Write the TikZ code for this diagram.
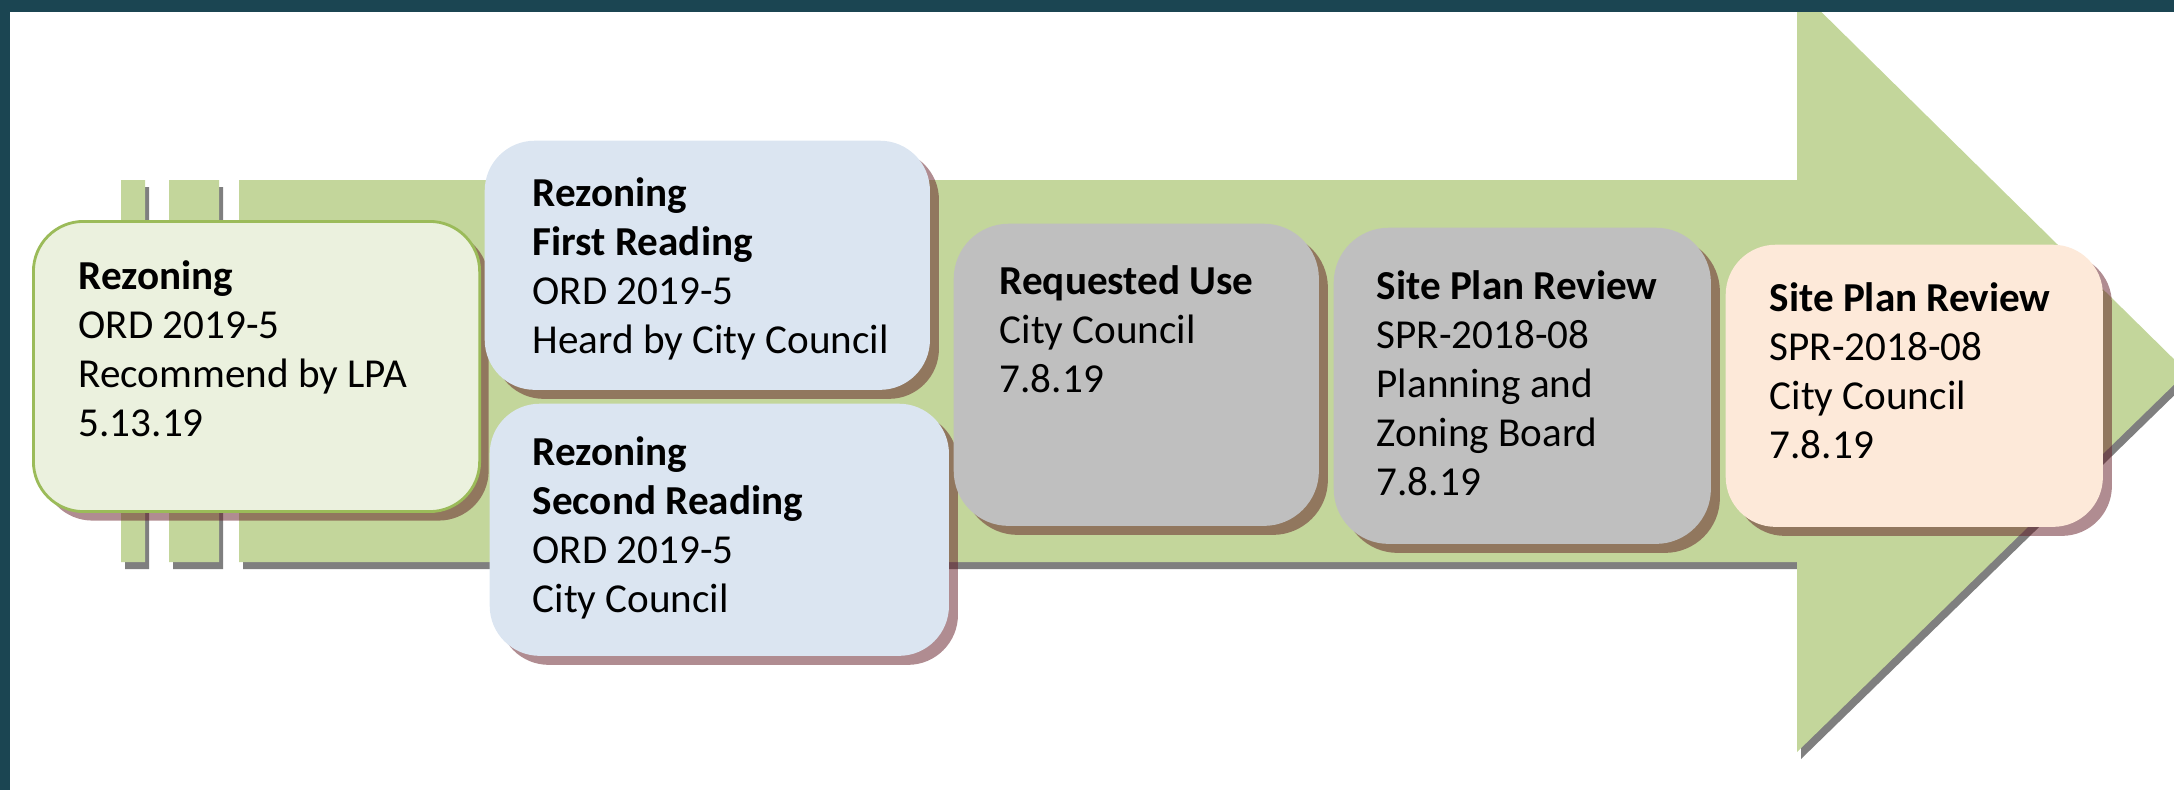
\documentclass[tikz,border=0pt]{standalone}
\usepackage{fontspec}
\setmainfont{Carlito}
\usetikzlibrary{shadows}

\definecolor{framecol}{RGB}{27,69,82}
\definecolor{framemid}{RGB}{44,100,100}
\definecolor{arrowgreen}{RGB}{195,214,155}
\definecolor{rzfill}{RGB}{235,241,222}
\definecolor{rzline}{RGB}{155,187,89}
\definecolor{readfill}{RGB}{219,229,241}
\definecolor{usefill}{RGB}{191,191,191}
\definecolor{sprfill}{RGB}{253,233,217}
\definecolor{boxshadow}{RGB}{97,25,35}

\tikzset{
  stepbox/.style={rounded corners=0.5cm, inner sep=0pt, anchor=north west,
    drop shadow={shadow xshift=0.09cm, shadow yshift=-0.09cm, fill=boxshadow, opacity=0.5}},
  steptext/.style={anchor=north west, align=left, inner sep=0pt,
    font=\fontsize{11.7}{13.9}\selectfont},
  arrowbody/.style={fill=arrowgreen,
    drop shadow={shadow xshift=0.04cm, shadow yshift=-0.07cm, fill=black, opacity=0.5}}
}

\begin{document}
\begin{tikzpicture}[x=0.01cm,y=-0.01cm]
\useasboundingbox (0,0) rectangle (2174,790);

%draw the big arrow with its two small bars
\path[arrowbody] (121,180) rectangle (145,562) (169,180) rectangle (219,562)
  (239,180) -- (1797,180) -- (1797,-12) -- (2187,372) -- (1797,752)
  -- (1797,562) -- (239,562) -- cycle;

%draw the boxes
\node[stepbox, fill=rzfill, draw=rzline, line width=0.8pt,
  minimum width=4.46cm, minimum height=2.90cm] (rezone) at (32,220) {};
\node[stepbox, fill=readfill, minimum width=4.45cm, minimum height=2.49cm] (first) at (484,140) {};
\node[stepbox, fill=readfill, minimum width=4.59cm, minimum height=2.52cm] (second) at (489,403) {};
\node[stepbox, fill=usefill, rounded corners=0.55cm,
  minimum width=3.65cm, minimum height=3.02cm] (use) at (953,223) {};
\node[stepbox, fill=usefill, rounded corners=0.55cm,
  minimum width=3.77cm, minimum height=3.16cm] (sprpzb) at (1333,227) {};
\node[stepbox, fill=sprfill, minimum width=3.77cm, minimum height=2.82cm] (sprcc) at (1725,244) {};

%draw the texts
\node[steptext] (rezone-t) at (78,260) {\textbf{Rezoning}\\ORD 2019-5\\Recommend by LPA\\5.13.19};
\node[steptext] (first-t) at (532,177) {\textbf{Rezoning}\\\textbf{First Reading}\\ORD 2019-5\\Heard by City Council};
\node[steptext] (second-t) at (532,436) {\textbf{Rezoning}\\\textbf{Second Reading}\\ORD 2019-5\\City Council};
\node[steptext] (use-t) at (999,265) {\textbf{Requested Use}\\City Council\\7.8.19};
\node[steptext] (sprpzb-t) at (1376,270) {\textbf{Site Plan Review}\\SPR-2018-08\\Planning and\\Zoning Board\\7.8.19};
\node[steptext] (sprcc-t) at (1769,282) {\textbf{Site Plan Review}\\SPR-2018-08\\City Council\\7.8.19};

%draw the frame
\fill[left color=framecol, middle color=framemid, right color=framecol] (0,0) rectangle (2174,11);
\fill[framecol] (0,0) rectangle (10,790);

\end{tikzpicture}
\end{document}
